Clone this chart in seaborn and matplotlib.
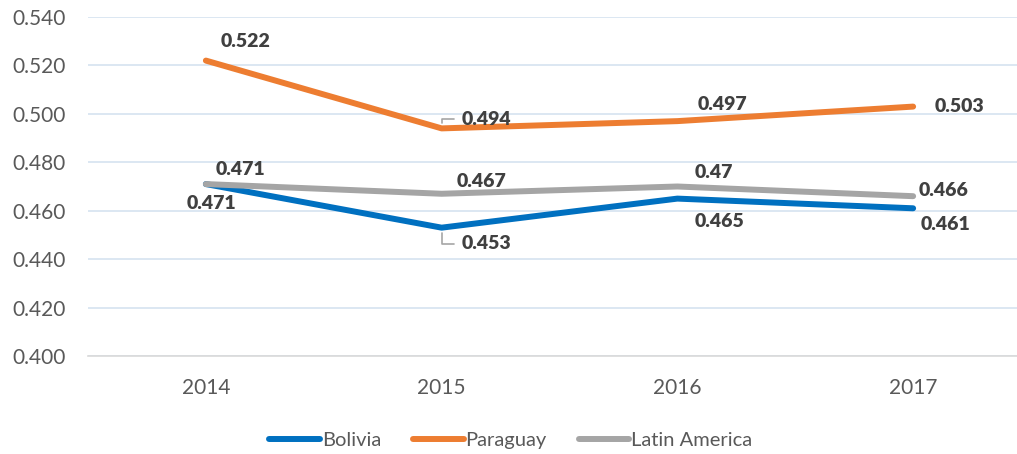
import pandas as pd
import seaborn as sns
import matplotlib.pyplot as plt

# Values
years = ['2014', '2015', '2016', '2017']
bolivia = [0.471, 0.453, 0.465, 0.461]
paraguay = [0.522, 0.494, 0.497, 0.503]
latam = [0.471, 0.467, 0.470, 0.466]
series_names = ['Bolivia', 'Paraguay', 'Latin America']
colors = ['#0070C0', '#ED7D31', '#A5A5A5']
yticks = [0.400, 0.420, 0.440, 0.460, 0.480, 0.500, 0.520, 0.540]

# label offsets in pixels (dx, dy) relative to each point
offsets = {
    'Bolivia': [(6, -19), (45, -16), (42, -23), (32, -16)],
    'Paraguay': [(40, 19), (45, 9), (45, 17), (46, 0)],
    'Latin America': [(35, 15), (40, 12), (36, 14), (30, 6)],
}
leaders = {('Paraguay', 1), ('Bolivia', 1)}

df = pd.DataFrame({
    'year': years * 3,
    'x': list(range(len(years))) * 3,
    'value': bolivia + paraguay + latam,
    'series': [s for s in series_names for _ in years],
})

sns.set_theme(style='white')
plt.rcParams['font.family'] = ['Lato', 'DejaVu Sans']

fig = plt.figure(figsize=(10.17, 4.54), dpi=100)
ax = fig.add_axes([88 / 1017, 1 - 356 / 454, 943 / 1017, (356 - 17) / 454])

sns.lineplot(data=df, x='x', y='value', hue='series', palette=colors,
             hue_order=series_names, linewidth=4.3, ax=ax, legend=False)
for line in ax.lines:
    line.set_solid_capstyle('round')

# data labels
for name in series_names:
    vals = df[df['series'] == name]['value'].tolist()
    for i, v in enumerate(vals):
        dx, dy = offsets[name][i]
        txt = f'{v:.3f}'.rstrip('0') if name == 'Latin America' and i == 2 else f'{v:.3f}'
        if (name, i) in leaders:
            ax.annotate(txt, xy=(i, v), xytext=(dx, dy), textcoords='offset pixels',
                        ha='center', va='center', fontsize=14, fontweight='heavy',
                        color='#404040',
                        arrowprops=dict(arrowstyle='-', color='#A5A5A5', lw=1.2,
                                        connectionstyle='angle,angleA=0,angleB=90,rad=0',
                                        shrinkA=3, shrinkB=4, relpos=(0, 0.5)))
        else:
            ax.annotate(txt, xy=(i, v), xytext=(dx, dy), textcoords='offset pixels',
                        ha='center', va='center', fontsize=14, fontweight='heavy',
                        color='#404040')

ax.set_xlim(-0.5, 3.5)
ax.set_ylim(0.400, 0.540)
ax.set_xticks(range(len(years)))
ax.set_xticklabels(years)
ax.set_yticks(yticks)
ax.set_yticklabels([f'{t:.3f}' for t in yticks])
ax.tick_params(axis='x', length=0, pad=16, labelsize=15, labelcolor='#595959')
ax.tick_params(axis='y', length=0, pad=16, labelsize=15, labelcolor='#595959')
ax.set_xlabel('')
ax.set_ylabel('')
ax.grid(axis='y', color='#D6E3F0', linewidth=1.2)
ax.set_axisbelow(True)
for side in ['left', 'right', 'top']:
    ax.spines[side].set_visible(False)
ax.spines['bottom'].set_color('#D9D9D9')
ax.spines['bottom'].set_linewidth(1.2)

handles = [plt.Line2D([], [], color=c, lw=4.3, solid_capstyle='round') for c in colors]
fig.legend(handles, series_names, loc='center', bbox_to_anchor=(511 / 1017, 1 - 440 / 454),
           ncol=3, frameon=False, fontsize=14.5, labelcolor='#595959',
           handlelength=2.5, handletextpad=0.1, columnspacing=1.6)

fig.savefig('out.png', dpi=100)
